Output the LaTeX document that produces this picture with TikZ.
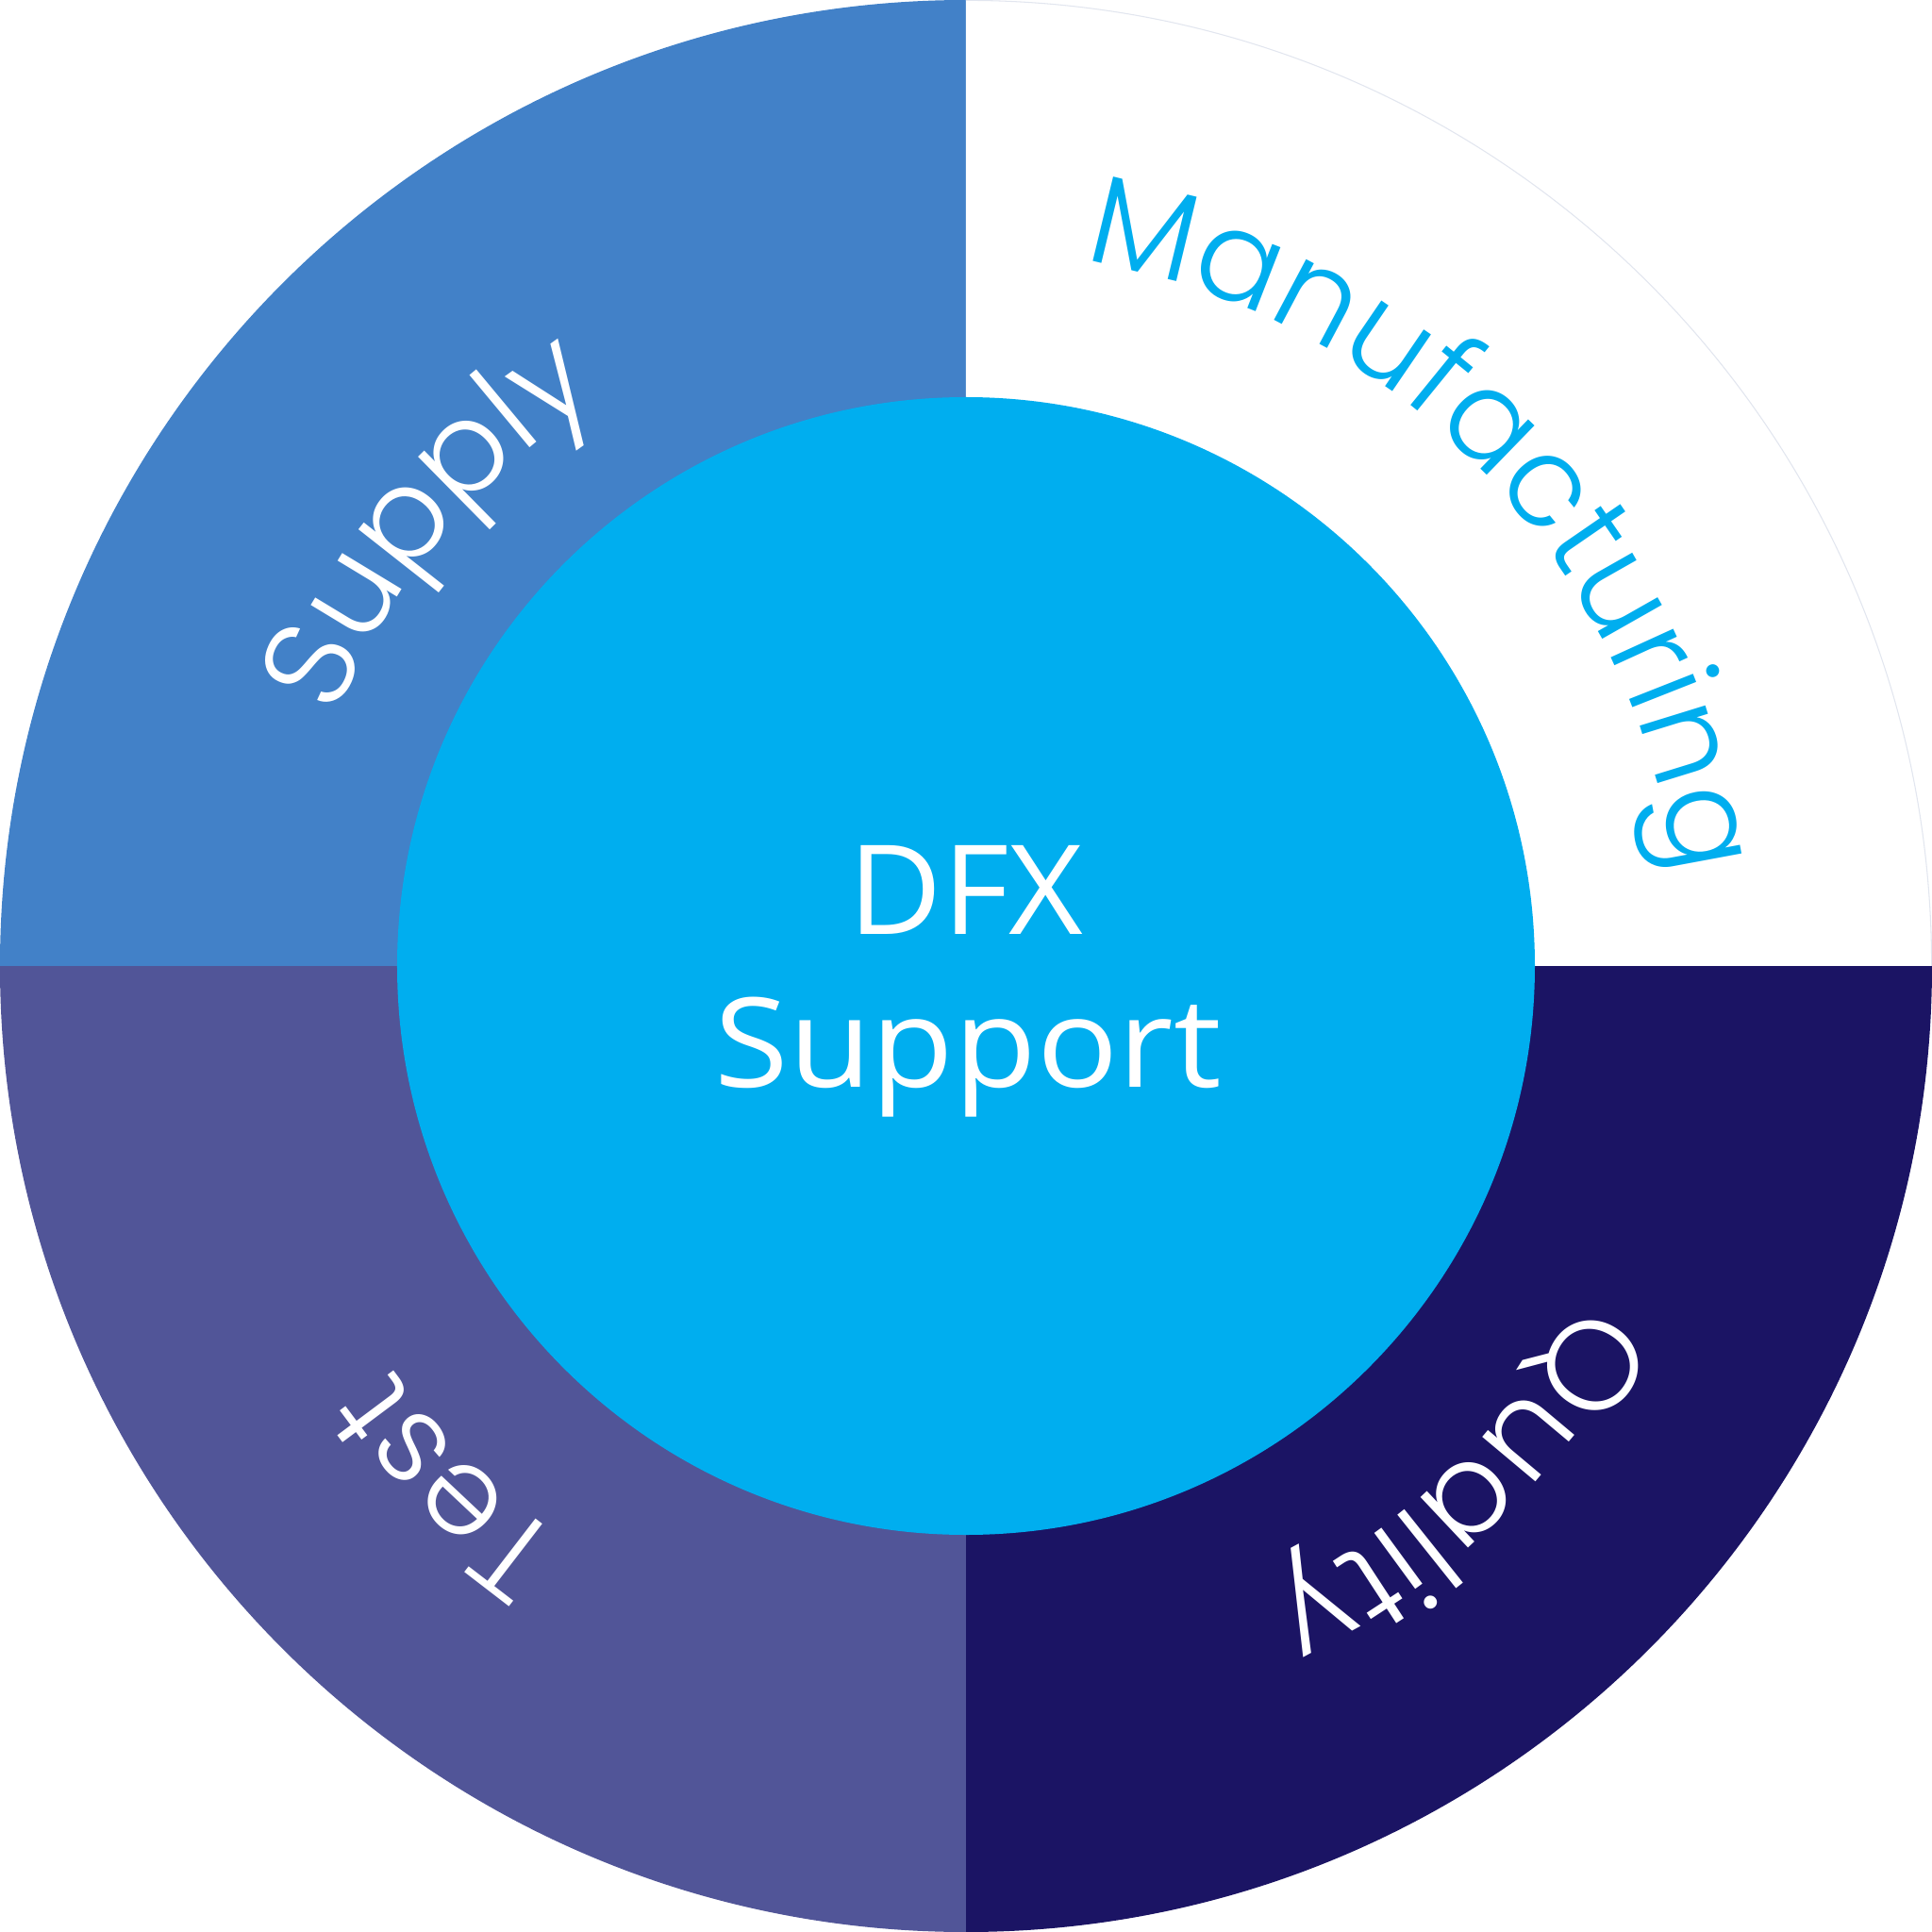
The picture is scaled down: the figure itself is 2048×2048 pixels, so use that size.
\documentclass[tikz,border=0pt]{standalone}
\usepackage{fontspec}
\setmainfont{Open Sans}
\newfontfamily\arcfont{Poppins Light}
\usetikzlibrary{decorations.text}
\definecolor{supplyblue}{HTML}{4281C8}
\definecolor{testpurple}{HTML}{515598}
\definecolor{qualnavy}{HTML}{1B1464}
\definecolor{dfxcyan}{HTML}{00AEEF}
\definecolor{rimgray}{HTML}{E2E6EF}
\newcommand{\arcsize}{\arcfont\fontsize{37}{40}\selectfont}
\newcommand{\arcsizeb}{\arcfont\fontsize{38.3}{40}\selectfont}
\newcommand{\arcsizem}{\arcfont\fontsize{37.9}{40}\selectfont}
\begin{document}
\begin{tikzpicture}[x=0.01cm,y=0.01cm,
  arclabel/.style={decorate, decoration={text along path, text align=center, text color=#1}},
  centertext/.style={anchor=base, text=white, inner sep=0pt, font=\fontsize{37.5}{40}\selectfont}]
\useasboundingbox (-1024,-1024) rectangle (1024,1024);
\coordinate (c) at (0,0);
% quadrants
\fill[supplyblue] (c) -- (180:1024) arc (180:90:1024) -- cycle;
\fill[white] (c) -- (90:1024) arc (90:0:1024) -- cycle;
\draw[rimgray, line width=0.3pt] (90:1023.6) arc (90:0:1023.6);
\fill[qualnavy] (c) -- (0:1024) arc (360:270:1024) -- cycle;
\fill[testpurple] (c) -- (270:1024) arc (270:180:1024) -- cycle;
% inner circle
\fill[dfxcyan] (c) circle[radius=603];
% arc labels (clockwise, tops outward)
\path[arclabel=white, decoration={text={|\arcsizeb|Supply}}] (185.5:718) arc (185.5:95.5:718);
\path[arclabel=dfxcyan, decoration={text={|\arcsizem|Manufacturing}}] (88.9:758) arc (88.9:-1.1:758);
\path[arclabel=white, decoration={text={|\arcsizeb|Quality}}] (-1.4:741) arc (-1.4:-91.4:741);
\path[arclabel=white, decoration={text={|\arcsize|Test}}] (270:743) arc (270:180:743);
% center text
\node[centertext, xscale=1.035] (dfx) at (0,34) {DFX};
\node[centertext, xscale=1.085] (support) at (2,-128) {Support};
\end{tikzpicture}
\end{document}
